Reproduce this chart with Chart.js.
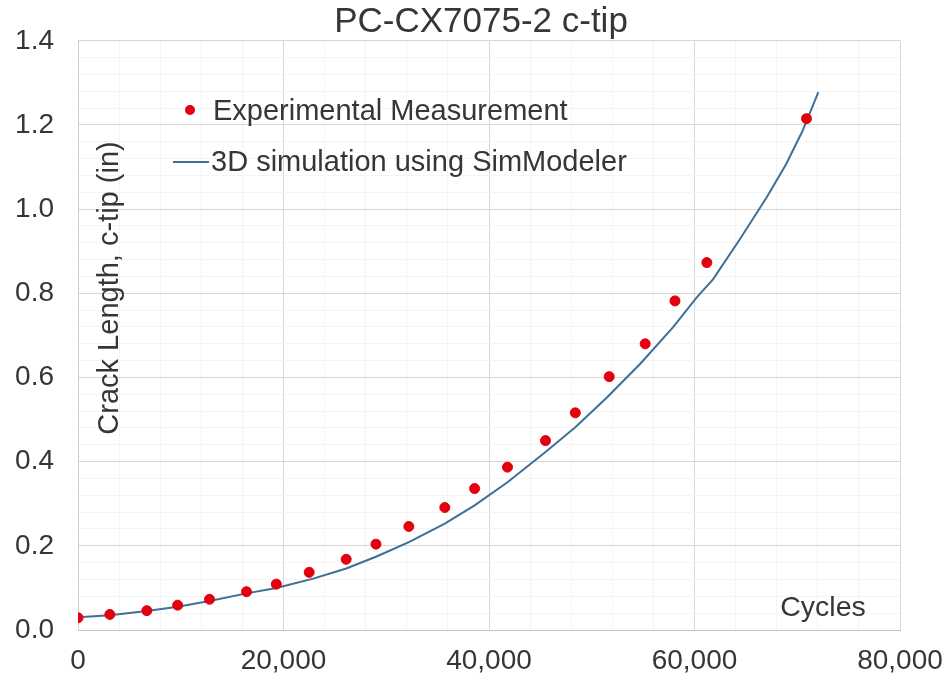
<!DOCTYPE html>
<html>
<head>
<meta charset="utf-8">
<title>PC-CX7075-2 c-tip</title>
<script src="https://cdn.jsdelivr.net/npm/chart.js@4.4.1/dist/chart.umd.min.js"></script>
<style>
  html, body { margin: 0; padding: 0; background: #fff; }
  #wrap { width: 945px; height: 682px; }
</style>
</head>
<body>
<div id="wrap"><canvas id="crackChart"></canvas></div>
<script>
// measured crack length (in) vs cycles
const expCycles = [0, 3100, 6700, 9700, 12800, 16400, 19300, 22500, 26100, 29000, 32200,
                   35700, 38600, 41800, 45500, 48400, 51700, 55200, 58100, 61200, 70900];
const expLength = [0.029, 0.037, 0.046, 0.059, 0.073, 0.091, 0.109, 0.137, 0.168, 0.204, 0.246,
                   0.291, 0.336, 0.387, 0.450, 0.516, 0.602, 0.680, 0.782, 0.873, 1.215];

// SimModeler prediction
const simCycles = [0, 3100, 6700, 9700, 12800, 16400, 19300, 22900, 26100, 29000, 32200, 35700,
                   38600, 41800, 45500, 48400, 51500, 54700, 57900, 60200, 61800, 64400, 67000,
                   68900, 70500, 72050];
const simLength = [0.030, 0.035, 0.045, 0.055, 0.069, 0.087, 0.100, 0.122, 0.146, 0.174, 0.209, 0.253,
                   0.296, 0.351, 0.423, 0.482, 0.553, 0.632, 0.719, 0.790, 0.833, 0.928, 1.027,
                   1.106, 1.185, 1.278];

const chartTitle = 'PC-CX7075-2 c-tip';
const yTitle = 'Crack Length, c-tip (in)';
const xTitle = 'Cycles';
const seriesNames = ['Experimental Measurement', '3D simulation using SimModeler'];

const FONT = '"Liberation Sans", Arial, sans-serif';
const TEXT = '#363636';

const toXY = (xs, ys) => xs.map((x, i) => ({ x: x, y: ys[i] }));

// title, axis captions and legend all sit inside the plot frame
const overlayText = {
    id: 'overlayText',
    afterDraw(chart) {
        const ctx = chart.ctx;
        const ds = chart.data.datasets;
        ctx.save();
        ctx.fillStyle = TEXT;

        ctx.font = '35px ' + FONT;
        ctx.textAlign = 'center';
        ctx.textBaseline = 'middle';
        ctx.fillText(chartTitle, 481, 22);

        ctx.font = '28.5px ' + FONT;
        ctx.fillText(xTitle, 823, 608);

        ctx.save();
        ctx.translate(110, 288);
        ctx.rotate(-Math.PI / 2);
        ctx.font = '29px ' + FONT;
        ctx.fillText(yTitle, 0, 0);
        ctx.restore();

        // legend
        ctx.textAlign = 'left';
        ctx.font = '29px ' + FONT;
        ctx.fillStyle = ds[0].pointBackgroundColor;
        ctx.beginPath();
        ctx.arc(190, 110, 5, 0, Math.PI * 2);
        ctx.fill();
        ctx.fillStyle = TEXT;
        ctx.fillText(ds[0].label, 213, 112);

        ctx.strokeStyle = ds[1].borderColor;
        ctx.lineWidth = 2;
        ctx.beginPath();
        ctx.moveTo(173, 162);
        ctx.lineTo(209, 162);
        ctx.stroke();
        ctx.fillText(ds[1].label, 211, 163);
        ctx.restore();
    }
};

const isMajor = (v, step) => Math.abs(v / step - Math.round(v / step)) < 1e-6;

new Chart(document.getElementById('crackChart'), {
    type: 'scatter',
    data: {
        datasets: [{
            label: seriesNames[0],
            data: toXY(expCycles, expLength),
            pointBackgroundColor: '#e3000f',
            pointBorderColor: '#e3000f',
            pointRadius: 5,
            showLine: false,
            order: 0
        }, {
            label: seriesNames[1],
            data: toXY(simCycles, simLength),
            borderColor: '#3e6f97',
            borderWidth: 2,
            pointRadius: 0,
            showLine: true,
            tension: 0,
            order: 1
        }]
    },
    options: {
        responsive: true,
        maintainAspectRatio: false,
        animation: false,
        layout: { padding: { top: 39, right: 45, left: 0, bottom: 0 } },
        plugins: {
            legend: { display: false },
            title: { display: false },
            tooltip: { enabled: false }
        },
        scales: {
            x: {
                type: 'linear',
                min: 0,
                max: 80000,
                afterFit: (s) => {
                    s.height = 52;
                    // keep the end labels from shrinking the plot
                    s.paddingLeft = 0;
                    s.paddingRight = 40;
                },
                border: { color: '#c4c4c4', width: 1 },
                grid: {
                    drawTicks: false,
                    color: (c) => isMajor(c.tick.value, 20000) ? '#d6d6d6' : '#f4f4f4'
                },
                ticks: {
                    stepSize: 4000,
                    autoSkip: false,
                    maxRotation: 0,
                    padding: 14,
                    color: TEXT,
                    font: { family: FONT, size: 28 },
                    callback: (v) => isMajor(v, 20000) ? v.toLocaleString('en-US') : ''
                }
            },
            y: {
                type: 'linear',
                min: 0,
                max: 1.4,
                afterFit: (s) => { s.width = 78; },
                border: { color: '#cfcfcf', width: 1 },
                grid: {
                    drawTicks: false,
                    color: (c) => isMajor(c.tick.value, 0.2) ? '#d6d6d6' : '#f4f4f4'
                },
                ticks: {
                    stepSize: 0.04,
                    autoSkip: false,
                    padding: 24,
                    color: TEXT,
                    font: { family: FONT, size: 28 },
                    callback: (v) => isMajor(v, 0.2) ? v.toFixed(1) : ''
                }
            }
        }
    },
    plugins: [overlayText]
});
</script>
</body>
</html>
